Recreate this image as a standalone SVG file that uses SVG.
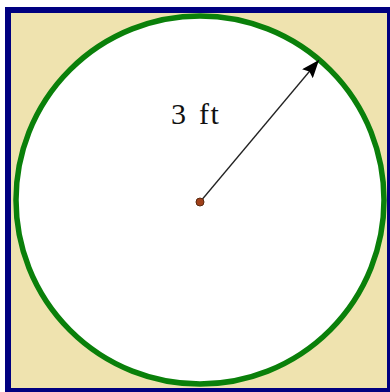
<svg xmlns="http://www.w3.org/2000/svg" width="390" height="392" viewBox="0 0 390 392">
<style>
.lbl{font-family:"Liberation Serif","Times New Roman",serif;font-size:30px;fill:#111}
</style>
<defs>
<marker id="ah" markerWidth="18" markerHeight="14" refX="18" refY="7" orient="auto" markerUnits="userSpaceOnUse" viewBox="0 0 18 14">
<path d="M0,0 L18,7 L0,14 L3,7 Z" fill="#000"/>
</marker>
</defs>
<g id="square">
<rect x="8" y="10" width="382" height="381" fill="#EFE3AF" stroke="#000080" stroke-width="6"/>
</g>
<g id="circle">
<circle cx="200" cy="200" r="184" fill="#fff" stroke="#0A800A" stroke-width="5.5"/>
</g>
<g id="connectors">
<line x1="200" y1="202" x2="319" y2="60" stroke="#222" stroke-width="1.3" marker-end="url(#ah)"/>
</g>
<g id="center">
<circle cx="200" cy="202" r="4" fill="#A0401A" stroke="#5a2a10" stroke-width="1"/>
</g>
<g id="label">
<text class="lbl" y="124"><tspan x="171">3</tspan><tspan x="199" letter-spacing="1.5">ft</tspan></text>
</g>
</svg>
